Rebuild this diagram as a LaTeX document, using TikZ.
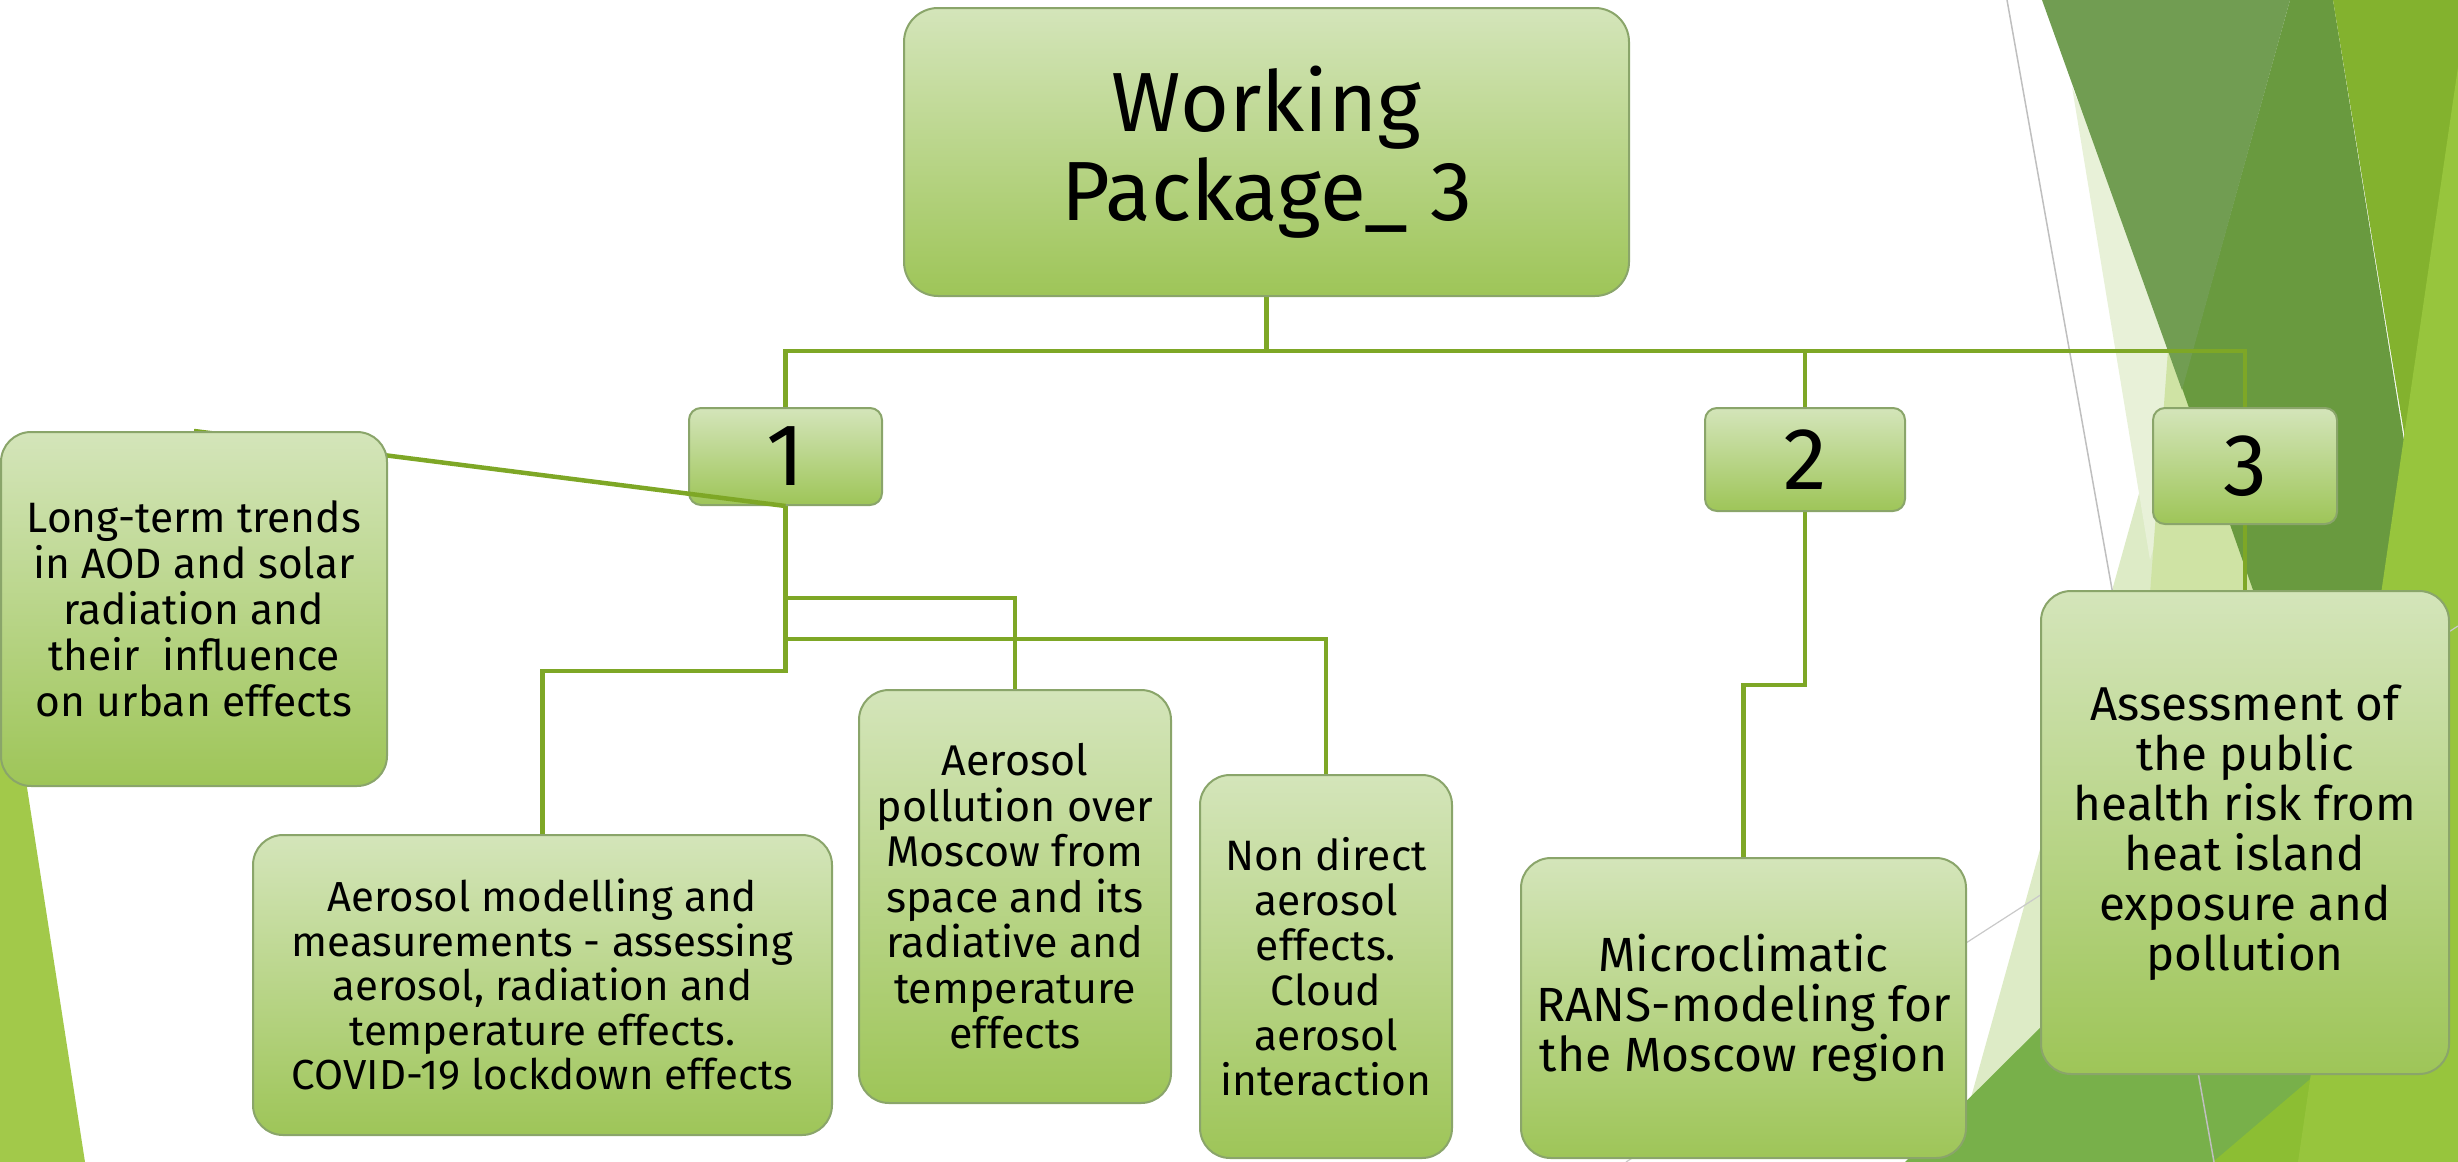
\documentclass[tikz,border=0pt]{standalone}
\usepackage{fontspec}
\setmainfont{Fira Sans}

\definecolor{boxtop}{HTML}{D4E5BA}
\definecolor{boxbot}{HTML}{9EC558}
\definecolor{boxline}{HTML}{8AA56A}
\definecolor{linkgreen}{HTML}{7EA726}
\definecolor{decoMuted}{HTML}{719D52}
\definecolor{decoDark}{HTML}{699A3F}
\definecolor{decoBright}{HTML}{83B22E}
\definecolor{decoLime}{HTML}{97C53D}
\definecolor{decoPale}{HTML}{E8F1D8}
\definecolor{decoPaleB}{HTML}{DDEBC6}
\definecolor{decoLight}{HTML}{CFE3A4}
\definecolor{decoMid}{HTML}{78B04A}
\definecolor{decoGrass}{HTML}{8CBE33}
\definecolor{decoLeft}{HTML}{A2C94A}
\definecolor{hairline}{HTML}{BFBFBF}

\pgfdeclarelayer{deco}
\pgfdeclarelayer{links}
\pgfdeclarelayer{over}
\pgfdeclarelayer{top}
\pgfsetlayers{deco,links,main,over,top}

\begin{document}
\begin{tikzpicture}[x=1pt,y=-1pt,
  box/.style={draw=boxline, line width=2pt, rounded corners=30pt,
    top color=boxtop, bottom color=boxbot, inner sep=0pt,
    align=center, text=black},
  numbox/.style={box, rounded corners=12pt, font=\fontsize{88}{90}\selectfont},
  link/.style={draw=linkgreen, line width=4.5pt},
]
\useasboundingbox (0,0) rectangle (2458,1162);

% ---------- boxes ----------
\node[box, rounded corners=34pt, minimum width=725pt, minimum height=288pt,
      font=\fontsize{84}{89}\selectfont] (wp) at (1266.5,152) {Working\\Package\_ 3};

\node[numbox, minimum width=193pt, minimum height=97pt]  (b1) at (785.5,456.5) {1};
\node[numbox, minimum width=200pt, minimum height=103pt] (b2) at (1805,459.5) {2};
\node[numbox, minimum width=184pt, minimum height=116pt] (b3) at (2245,466) {3};

\begin{pgfonlayer}{top}
\node[box, minimum width=386pt, minimum height=354pt,
      font=\fontsize{42.5}{46}\selectfont] (lt) at (194,609)
  {Long-term trends\\in AOD and solar\\radiation and\\their\ \ influence\\on urban effects};
\end{pgfonlayer}

\node[box, minimum width=579pt, minimum height=300pt,
      font=\fontsize{42}{44.5}\selectfont] (model) at (542.5,985)
  {Aerosol modelling and\\measurements - assessing\\aerosol, radiation and\\temperature effects.\\COVID-19 lockdown effects};

\node[box, minimum width=312pt, minimum height=413pt,
      font=\fontsize{43}{45.5}\selectfont] (poll) at (1015,896.5)
  {Aerosol\\pollution over\\Moscow from\\space and its\\radiative and\\temperature\\effects};

\node[box, minimum width=252pt, minimum height=383pt,
      font=\fontsize{42.5}{45}\selectfont] (nd) at (1326,966.5)
  {Non direct\\aerosol\\effects.\\Cloud\\aerosol\\interaction};

\node[box, minimum width=445pt, minimum height=300pt,
      font=\fontsize{48}{50}\selectfont] (micro) at (1743.5,1008)
  {Microclimatic\\RANS-modeling for\\the Moscow region};

\node[box, minimum width=408pt, minimum height=483pt,
      font=\fontsize{47.5}{50}\selectfont] (assess) at (2245,832.5)
  {Assessment of\\the public\\health risk from\\heat island\\exposure and\\pollution};

% ---------- connectors ----------
\begin{pgfonlayer}{links}
\coordinate (bus) at (wp.south |- 0,351);
\draw[link] (wp.south) -- (bus);
\draw[link] (b1.north) |- (bus);
\draw[link] (b2.north) |- (bus);
\draw[link] (b3.north) |- (bus);

\draw[link] (b1.south) -- (b1.south |- 0,671) -| (model.north);
\draw[link] (b1.south |- 0,598) -| (poll.north);
\draw[link] (b1.south |- 0,639) -| (nd.north);

\draw[link] (b2.south) -- (b2.south |- 0,685) -| (micro.north);
\draw[link] (b3.south) -- (assess.north);
\end{pgfonlayer}

\begin{pgfonlayer}{over}
\draw[link] (b1.south) -- (lt.north);
\end{pgfonlayer}

% ---------- background facets ----------
\begin{pgfonlayer}{deco}
\fill[decoLeft]   (0,613) -- (85,1162) -- (0,1162) -- cycle;
\fill[decoPaleB]  (1953,1162) -- (2165,400) -- (2230,400) -- (2300,1162) -- cycle;
\fill[decoPale]   (2072,87) -- (2200,390) -- (2150,560) -- cycle;
\fill[decoLight]  (2168,350) -- (2450,1000) -- (2120,1000) -- cycle;
\fill[decoDark]   (2290,0) -- (2333,0) -- (2420,540) -- (2330,1000) -- (2253,590) -- (2182,388) -- cycle;
\fill[decoMuted]  (2042,0) -- (2290,0) -- (2182,390) -- cycle;
\fill[decoMid]    (1905,1162) -- (2380,690) -- (2458,690) -- (2458,1162) -- cycle;
\fill[decoGrass]  (2213,1162) -- (2458,953) -- (2458,1162) -- cycle;
\fill[decoBright] (2333,0) -- (2458,0) -- (2458,762) -- cycle;
\fill[decoLime]   (2458,67) -- (2298,1162) -- (2458,1162) -- cycle;
\draw[hairline, line width=1.5pt] (2007,0) -- (2214,1162);
\draw[hairline!85, line width=1.2pt] (1626,1162) -- (2458,626);
\end{pgfonlayer}
\end{tikzpicture}
\end{document}
